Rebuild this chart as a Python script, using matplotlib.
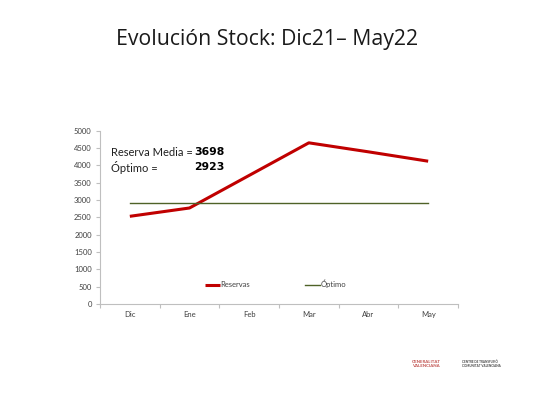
import matplotlib
matplotlib.use("Agg")
import matplotlib.pyplot as plt
import numpy as np

months = ["Dic", "Ene", "Feb", "Mar", "Abr", "May"]
reservas = [2530, 2770, 3710, 4650, 4390, 4120]
optimo = [2923, 2923, 2923, 2923, 2923, 2923]
yticks = [0, 500, 1000, 1500, 2000, 2500, 3000, 3500, 4000, 4500, 5000]
title = "Evolución Stock: Dic21\u2013 May22"
media_label = "Reserva Media ="
media_value = "3698"
optimo_label = "Óptimo ="
optimo_value = "2923"

plt.rcParams['font.family'] = ['Lato', 'DejaVu Sans']

fig = plt.figure(figsize=(5.33, 4.0), dpi=100)
ax = fig.add_axes([100/533, 1-304/400, 358/533, (304-130.7)/400])

x = np.arange(len(months))
ax.plot(x, reservas, color="#C00000", lw=2.2, label="Reservas", solid_capstyle="butt")
ax.plot(x, optimo, color="#4F6228", lw=1.0, label="Óptimo")

ax.set_xlim(-0.5, len(months)-0.5)
ax.set_ylim(0, 5000)
ax.set_yticks(yticks)
ax.set_yticklabels([str(v) for v in yticks], fontsize=5.5, color="#404040")
ax.set_xticks(np.arange(-0.5, len(months), 1.0))
ax.set_xticklabels([])
ax.set_xticks(x, minor=True)
ax.set_xticklabels(months, minor=True, fontsize=5.5, color="#404040")
ax.tick_params(axis="x", which="major", length=3, color="#BFBFBF")
ax.tick_params(axis="x", which="minor", length=0, pad=5)
ax.tick_params(axis="y", length=3, color="#BFBFBF", pad=3)
for s in ["top", "right"]:
    ax.spines[s].set_visible(False)
for s in ["left", "bottom"]:
    ax.spines[s].set_color("#BFBFBF")
    ax.spines[s].set_linewidth(0.8)

leg = ax.legend(loc="lower center", bbox_to_anchor=(0.49, 0.05), ncol=2, frameon=False,
                fontsize=5.5, handlelength=2.0, handletextpad=0.1, columnspacing=7.1)
for t in leg.get_texts():
    t.set_color("#404040")

fig.text(111/533, 1-152/400, media_label, fontsize=8, color="#202020", va="center", ha="left")
fig.text(194/533, 1-152/400, media_value, fontsize=7.8, color="black", va="center", ha="left",
         fontweight="bold", family=["DejaVu Sans"])
fig.text(111/533, 1-167/400, optimo_label, fontsize=8, color="#202020", va="center", ha="left")
fig.text(194/533, 1-167/400, optimo_value, fontsize=7.8, color="black", va="center", ha="left",
         fontweight="bold", family=["DejaVu Sans"])

fig.text(267/533, 1-39/400, title, fontsize=15.3, ha="center", va="center", color="#1a1a1a",
         family=["Open Sans", "DejaVu Sans"])

fig.text(412/533, 1-364/400, "GENERALITAT\nVALENCIANA", fontsize=3.2, color="#C0504D",
         ha="left", va="center", fontweight="bold", linespacing=1.0)
fig.text(462/533, 1-364/400, "CENTRE DE TRANSFUSIÓ\nCOMUNITAT VALENCIANA", fontsize=2.2,
         color="#404040", ha="left", va="center", fontweight="bold", linespacing=1.0)

fig.savefig("out.png", dpi=100)
